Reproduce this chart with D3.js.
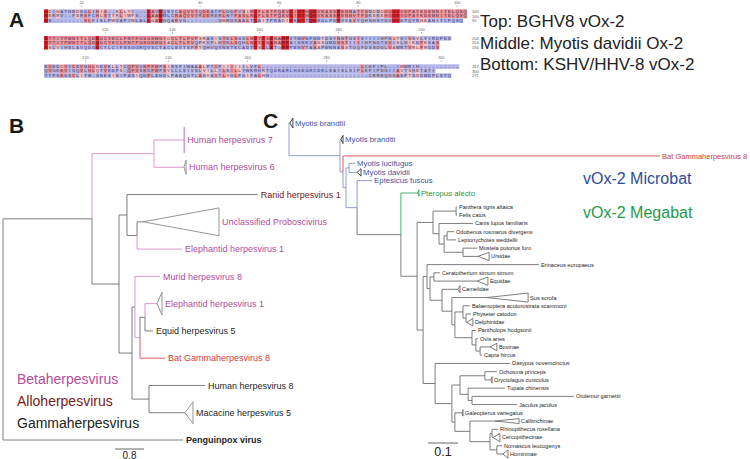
<!DOCTYPE html>
<html><head><meta charset="utf-8">
<script src="https://cdn.jsdelivr.net/npm/d3@7"></script>
<style>body{margin:0;background:#fff} svg{display:block;font-family:Arial,"Liberation Sans",Helvetica,sans-serif}</style>
</head><body><svg id="fig" width="750" height="459"></svg>
<script>
// ---------------- DATA ----------------
// Panel A: alignment blocks (top: BGHV8 vOx-2, middle: Myotis davidii Ox-2, bottom: KSHV vOx-2)
const alnBlock1 = [
  "MDIHATHNDSGLIHIS--KLLYI---LAVWQSYCAQVVTQDEATPLGDPVSIRCFLETPQEVVIVTHQKVKASSPENMATFSNDNDHGVVVDPAYKDEMNITELQSQ",
  "MERRV--FERSFCHLSTYRLIWFS--LAAWMLCRAQVVTRDERERLNTPASLRCFLETPQEVVIVTHQKVKASSPENMVTFSKEKEHGVVVDPAYKDEMNITELQSQ",
  "MS--------SLFISLPWVAFIWLALLGAWGQARVG--------GMRGSAALTCAITPRADIVSVTTQKRGLPGPVVAVYQHSHSYGVVVDTQYRHEANITCPQSQ"
];
const alnBlock2 = [
  "STTITPWNTTLQDGGCYKCLFNTFGSGKWGIGCLTLFVPSRASISYELSGSLNVTCSANARPVTMVNFNDTDSYNNTGSISIIIIHPNGTSIVSVLYIRDPKS",
  "STTITPWNTTLQDGGCYKCLFNTFGSGKWGIACLTLFVQPKVFLHYKLSQHLNVTCSANARPAISNKVAGSGMDNSTIIIIHPNGTSVISLHIKDPKSAS",
  "SSLVIHSLAVQDGGCYLCIFSSGGRQVSCTACLEVTSPPTQHVQVNSTECADTVSCLATGRPPENVTAAAPWNNASSTGQFDSSDGLVAWRTVRLPRGDS"
];
const alnBlock3 = [
  "KVEDDVYCEVNHLNKVELLTCQPVVKPFWPSIRSFIWAAALFTIFIIIIIILVFL-------------------------LCKFIPL--IMMRIH----------",
  "QVGKEVIGQVLHLQTVKDFS-QPVSKGFWFSVLLLSIVSLVILLILSILLYWKRHRTQDRARLHSEGRCDELEAISLSIPLKFIPDGIIAVTSHETATI",
  "TTPSEGSCLITW-GNESISIPASIQGPLAHDLPAAQGTLAGVAITLVGLFGIFALHH-------------------------CRRKQGGASPTSDDMDPLSTQ"
];
const alnEndNumbers = [[100, 100, 90], [204, 204, 194], [267, 300, 271]];
const alnRuler = [
  [[20, 10], [40, 40], [60, 60], [80, 80], [100, 105]],
  [[120, 16], [140, 33], [160, 55], [180, 75], [200, 96]],
  [[220, 11], [240, 32], [260, 52], [280, 72], [300, 101]]
];
const alnSimilarGroups = ["ILVM", "FYW", "KRH", "DE", "ST", "NQ", "AG"];
const alnLegend = ["Top: BGHV8 vOx-2", "Middle:  Myotis davidii Ox-2", "Bottom:  KSHV/HHV-8 vOx-2"];

// Panel B: herpesvirus tree  [id, parent, cumulative branch length]
const treeB = [
  ["rootB", "", 0],
  ["a", "rootB", 2.455],
  ["beta", "a", 4.166],
  ["Human herpesvirus 7", "beta", 4.993],
  ["Human herpesvirus 6", "beta", 4.993],
  ["b", "a", 3.2],
  ["c", "b", 3.42],
  ["Ranid herpesvirus 1", "c", 7.03],
  ["d", "c", 3.697],
  ["Unclassified Proboscivirus", "d", 3.862],
  ["Elephantid herpesvirus 1#1", "d", 4.938],
  ["p", "b", 3.559],
  ["m", "p", 3.641],
  ["Murid herpesvirus 8", "m", 4.331],
  ["m2", "m", 3.779],
  ["q", "m2", 3.917],
  ["Elephantid herpesvirus 1#2", "q", 4.248],
  ["Equid herpesvirus 5", "q", 4.138],
  ["Bat Gammaherpesvirus 8", "m2", 4.469],
  ["h", "p", 4.028],
  ["Human herpesvirus 8", "h", 5.572],
  ["Macacine herpesvirus 5", "h", 5.021],
  ["Penguinpox virus", "rootB", 4.966]
];
// collapsed clades: [leaf, end length, half height in rows]
const treeBCollapsed = [
  ["Human herpesvirus 7", 5.0, 0.48],
  ["Human herpesvirus 6", 5.05, 0.26],
  ["Unclassified Proboscivirus", 5.959, 0.51],
  ["Elephantid herpesvirus 1#2", 4.386, 0.42],
  ["Macacine herpesvirus 5", 5.241, 0.4]
];
const treeBPinkEdges = ["beta", "Human herpesvirus 7", "Human herpesvirus 6", "Elephantid herpesvirus 1#1",
  "Murid herpesvirus 8", "m2", "Elephantid herpesvirus 1#2"];
const treeBRedEdges = ["Bat Gammaherpesvirus 8"];
const treeBPinkLabels = ["Human herpesvirus 7", "Human herpesvirus 6", "Unclassified Proboscivirus",
  "Elephantid herpesvirus 1#1", "Murid herpesvirus 8", "Elephantid herpesvirus 1#2"];
const treeBLegend = ["Betaherpesvirus", "Alloherpesvirus", "Gammaherpesvirus"];
const treeBScale = 0.8;

// Panel C: Ox-2 tree
const treeC = [
  ["rootC", "", 0],
  ["Myotis brandtii#1", "rootC", 0.003],
  ["n1", "rootC", 0.170],
  ["Myotis brandtii#2", "n1", 0.173],
  ["n2", "n1", 0.180],
  ["Bat Gammaherpesvirus 8", "n2", 1.237],
  ["n3", "n2", 0.190],
  ["n4", "n3", 0.200],
  ["Myotis lucifugus", "n4", 0.220],
  ["Myotis davidii", "n4", 0.227],
  ["n5", "n3", 0.227],
  ["Eptesicus fuscus", "n5", 0.277],
  ["n6", "n5", 0.373],
  ["Pteropus alecto", "n6", 0.430],
  ["mammals", "n6", 0.427],
  ["carn", "mammals", 0.480],
  ["fel", "carn", 0.557],
  ["Panthera tigris altaica", "fel", 0.560],
  ["Felis catus", "fel", 0.560],
  ["can", "carn", 0.500],
  ["Canis lupus familiaris", "can", 0.613],
  ["arc", "can", 0.517],
  ["pinn", "arc", 0.527],
  ["Odobenus rosmarus divergens", "pinn", 0.550],
  ["Leptonychotes weddellii", "pinn", 0.557],
  ["mu", "arc", 0.580],
  ["Mustela putorius furo", "mu", 0.627],
  ["Ursidae", "mu", 0.630],
  ["lx", "mammals", 0.447],
  ["r1", "lx", 0.460],
  ["Erinaceus europaeus", "r1", 0.833],
  ["r2", "r1", 0.470],
  ["periss", "r2", 0.483],
  ["Ceratotherium simum simum", "periss", 0.503],
  ["Equidae", "periss", 0.627],
  ["cet", "r2", 0.510],
  ["Camelidae", "cet", 0.563],
  ["c2", "cet", 0.543],
  ["Sus scrofa", "c2", 0.660],
  ["c3", "c2", 0.553],
  ["whales", "c3", 0.580],
  ["Balaenoptera acutorostrata scammoni", "whales", 0.603],
  ["w2", "whales", 0.590],
  ["Physeter catodon", "w2", 0.607],
  ["Delphinidae", "w2", 0.593],
  ["bov", "c3", 0.610],
  ["Pantholops hodgsonii", "bov", 0.623],
  ["b2", "bov", 0.623],
  ["Ovis aries", "b2", 0.630],
  ["b3", "b2", 0.637],
  ["Bovinae", "b3", 0.670],
  ["Capra hircus", "b3", 0.643],
  ["eu0", "lx", 0.487],
  ["Dasypus novemcinctus", "eu0", 0.737],
  ["euarch", "eu0", 0.543],
  ["gl", "euarch", 0.570],
  ["lago", "gl", 0.653],
  ["Ochotona princeps", "lago", 0.693],
  ["Oryctolagus cuniculus", "lago", 0.673],
  ["toj", "gl", 0.597],
  ["Tupaia chinensis", "toj", 0.720],
  ["oj", "toj", 0.610],
  ["Otolemur garnettii", "oj", 0.950],
  ["Jaculus jaculus", "oj", 0.760],
  ["dp", "euarch", 0.553],
  ["Galeopterus variegatus", "dp", 0.577],
  ["prim", "dp", 0.603],
  ["Callitrichinae", "prim", 0.687],
  ["cat", "prim", 0.670],
  ["cerc", "cat", 0.677],
  ["Rhinopithecus roxellana", "cerc", 0.697],
  ["Cercopithecinae", "cerc", 0.680],
  ["ape", "cat", 0.693],
  ["Nomascus leucogenys", "ape", 0.710],
  ["Homininae", "ape", 0.713]
];
const treeCCollapsed = [
  ["Myotis brandtii#1", 0.013, 0.6],
  ["Myotis brandtii#2", 0.180, 0.5],
  ["Myotis davidii", 0.240, 0.45],
  ["Pteropus alecto", 0.433, 0.4],
  ["Ursidae", 0.667, 0.5],
  ["Equidae", 0.663, 0.5],
  ["Camelidae", 0.570, 0.45],
  ["Sus scrofa", 0.797, 0.55],
  ["Delphinidae", 0.613, 0.45],
  ["Bovinae", 0.693, 0.45],
  ["Oryctolagus cuniculus", 0.677, 0.4],
  ["Galeopterus variegatus", 0.580, 0.4],
  ["Callitrichinae", 0.767, 0.3],
  ["Cercopithecinae", 0.703, 0.5],
  ["Homininae", 0.730, 0.5]
];
// extra row spacing before a leaf (default 1 row)
const treeCRowGap = [
  ["Myotis brandtii#2", 2], ["Bat Gammaherpesvirus 8", 2], ["Myotis lucifugus", 0.9],
  ["Myotis davidii", 1.1], ["Eptesicus fuscus", 1], ["Pteropus alecto", 1.5], ["Panthera tigris altaica", 1.7]
];
const treeCBlueEdges = ["Myotis brandtii#1", "n1", "Myotis brandtii#2", "n2", "n3", "n4",
  "Myotis lucifugus", "Myotis davidii", "n5", "Eptesicus fuscus"];
const treeCBlueLabels = ["Myotis brandtii#1", "Myotis brandtii#2", "Myotis lucifugus", "Myotis davidii", "Eptesicus fuscus"];
const treeCLegend = ["vOx-2 Microbat", "vOx-2 Megabat"];
const treeCScale = 0.1;

// ---------------- DRAWING ----------------
const svg = d3.select("#fig");
const COL = {gray: "#6e6e6e", pink: "#d88cc6", pinkText: "#b44c9e", red: "#e04848", redText: "#d23a3a",
  darkRed: "#7a1818", blue: "#8592c8", blueText: "#3b54a4", green: "#2fae60", greenText: "#1f9a4a", text: "#1e1e1e"};

// panel letters
[["A", 9, 27], ["B", 9, 133], ["C", 263, 128]].forEach(([t, x, y]) =>
  svg.append("text").attr("x", x).attr("y", y).attr("font-size", 21).attr("font-weight", "bold")
    .attr("fill", "#1a1a1a").text(t));

// ---- Panel A ----
const alnBlocks = [alnBlock1, alnBlock2, alnBlock3];
const nCols = d3.max(alnBlocks.flat(), s => s.length);
const colX = d3.scaleLinear().domain([0, nCols]).range([44, 467]);
const blockTop = [9.3, 36, 64.3], rowH = 4.5;
const cellFill = {3: "#d2222a", 2: "#ec8e94", 1: "#f6c2c6", 0: "#b2b4e6"};
const cw = colX(1) - colX(0);
const simGroup = ch => alnSimilarGroups.findIndex(g => g.includes(ch));
alnBlocks.forEach((blk, bi) => {
  const g = svg.append("g");
  const cells = [];
  blk.forEach((s, ri) => {
    for (let i = 0; i < s.length; i++) {
      const ch = s[i];
      const others = blk.filter((t, k) => k !== ri).map(t => t[i] || "-");
      let lvl = 0;
      if (ch !== "-") {
        const same = others.filter(c => c === ch).length;
        const sg = simGroup(ch);
        const sim = others.filter(c => c !== "-" && sg >= 0 && simGroup(c) === sg).length;
        if (same === 2) lvl = 3;
        else if (same === 1) lvl = 2;
        else if (sim >= 1) lvl = 1;
      }
      cells.push({ri, i, ch, lvl});
    }
  });
  g.selectAll("rect").data(cells).join("rect")
    .attr("x", d => colX(d.i)).attr("y", d => blockTop[bi] + d.ri * rowH)
    .attr("width", cw + 0.15).attr("height", rowH + 0.1)
    .attr("fill", d => cellFill[d.lvl]);
  g.selectAll("text.aa").data(cells).join("text").attr("class", "aa")
    .attr("x", d => colX(d.i + 0.5)).attr("y", d => blockTop[bi] + d.ri * rowH + rowH * 0.82)
    .attr("text-anchor", "middle").attr("font-size", 4.4).attr("font-weight", "bold")
    .attr("fill", d => d.lvl === 3 ? "#5a0a0a" : "#40304a").attr("fill-opacity", 0.7)
    .text(d => d.ch);
  g.selectAll("text.num").data(alnEndNumbers[bi]).join("text").attr("class", "num")
    .attr("x", colX(nCols) + 5).attr("y", (d, ri) => blockTop[bi] + ri * rowH + rowH * 0.85)
    .attr("font-size", 4).attr("fill", "#555").text(d => d);
  const r = g.selectAll("g.rul").data(alnRuler[bi]).join("g").attr("class", "rul");
  r.append("line").attr("x1", d => colX(d[1] - 0.5)).attr("x2", d => colX(d[1] - 0.5))
    .attr("y1", blockTop[bi] - 4.2).attr("y2", blockTop[bi] - 2.2).attr("stroke", "#888").attr("stroke-width", 0.5);
  r.append("text").attr("x", d => colX(d[1] - 0.5)).attr("y", blockTop[bi] - 5.3)
    .attr("text-anchor", "middle").attr("font-size", 3.8).attr("fill", "#666").text(d => d[0]);
});
svg.selectAll("text.alnleg").data(alnLegend).join("text").attr("class", "alnleg")
  .attr("x", 480).attr("y", (d, i) => 27 + i * 21.7).attr("font-size", 17).attr("fill", "#222").text(d => d);

// ---- generic tree ----
function buildTree(rows, gaps) {
  const root = d3.stratify().id(d => d[0]).parentId(d => d[1])(rows);
  const gapMap = new Map(gaps || []);
  let slot = 0;
  root.leaves().forEach((l, i) => {
    if (i > 0) slot += gapMap.has(l.id) ? gapMap.get(l.id) : 1;
    l.slot = slot;
  });
  root.eachAfter(n => { if (n.children) n.slot = (n.children[0].slot + n.children[n.children.length - 1].slot) / 2; });
  root.totalSlots = slot;
  return root;
}
function drawTree(g, root, x, y, opt) {
  const coll = new Map(opt.collapsed.map(c => [c[0], c]));
  const nodes = root.descendants().filter(n => n.parent);
  g.selectAll("path.edge").data(nodes).join("path").attr("class", "edge")
    .attr("d", n => `M${x(n.parent.data[2])},${y(n.parent.slot)}V${y(n.slot)}H${x(n.data[2])}`)
    .attr("fill", "none").attr("stroke", n => opt.edgeColor(n)).attr("stroke-width", 0.9);
  const tri = nodes.filter(n => coll.has(n.id));
  g.selectAll("path.tri").data(tri).join("path").attr("class", "tri")
    .attr("d", n => {
      const c = coll.get(n.id), x0 = x(n.data[2]), x1 = x(c[1]), yc = y(n.slot), h = y(c[2]) - y(0);
      return `M${x0},${yc}L${x1},${yc - h}L${x1},${yc + h}Z`;
    })
    .attr("fill", "#fff").attr("stroke", n => opt.triColor(n)).attr("stroke-width", 0.9);
  const leaves = root.leaves();
  g.selectAll("text.lab").data(leaves).join("text").attr("class", "lab")
    .attr("x", n => (coll.has(n.id) ? x(coll.get(n.id)[1]) : x(n.data[2])) + opt.pad)
    .attr("y", n => y(n.slot)).attr("dy", "0.35em")
    .attr("font-size", n => opt.fontSize(n)).attr("font-weight", n => opt.weight(n))
    .attr("fill", n => opt.labelColor(n)).text(n => n.id.replace(/#\d+$/, ""));
}

// ---- Panel B ----
const rootB = buildTree(treeB);
const xB = d3.scaleLinear().domain([0, 1]).range([3, 39.25]);
const yB = d3.scaleLinear().domain([0, rootB.totalSlots]).range([140, 440]);
const gB = svg.append("g");
drawTree(gB, rootB, xB, yB, {
  collapsed: treeBCollapsed, pad: 3,
  edgeColor: n => treeBRedEdges.includes(n.id) ? COL.red : treeBPinkEdges.includes(n.id) ? COL.pink : COL.gray,
  triColor: n => n.id === "Human herpesvirus 7" ? COL.pink : "#8a8a8a",
  labelColor: n => n.id === "Bat Gammaherpesvirus 8" ? COL.redText : n.id === "Ranid herpesvirus 1" ? COL.darkRed :
    treeBPinkLabels.includes(n.id) ? COL.pinkText : COL.text,
  fontSize: () => 9, weight: n => n.id === "Penguinpox virus" ? "bold" : "normal"
});
const bLegColors = [COL.pinkText, COL.darkRed, "#222"];
svg.selectAll("text.bleg").data(treeBLegend).join("text").attr("class", "bleg")
  .attr("x", 17).attr("y", (d, i) => 384 + i * 22).attr("font-size", 14)
  .attr("fill", (d, i) => bLegColors[i]).text(d => d);
const bBarX = 115;
svg.append("line").attr("x1", bBarX).attr("x2", bBarX + xB(treeBScale) - xB(0)).attr("y1", 449).attr("y2", 449)
  .attr("stroke", "#555").attr("stroke-width", 0.9);
svg.append("text").attr("x", bBarX + (xB(treeBScale) - xB(0)) / 2).attr("y", 459).attr("text-anchor", "middle")
  .attr("font-size", 10).attr("fill", "#222").text(treeBScale);

// ---- Panel C ----
const rootC = buildTree(treeC, treeCRowGap);
const xC = d3.scaleLinear().domain([0, 1]).range([289, 589]);
const yC = d3.scaleLinear().domain([0, rootC.totalSlots]).range([123, 454]);
const gC = svg.append("g");
const bigC = new Set([...treeCBlueLabels, "Pteropus alecto"]);
drawTree(gC, rootC, xC, yC, {
  collapsed: treeCCollapsed, pad: 2,
  edgeColor: n => n.id === "Bat Gammaherpesvirus 8" ? COL.red : n.id === "Pteropus alecto" ? COL.green :
    treeCBlueEdges.includes(n.id) ? COL.blue : COL.gray,
  triColor: n => n.id === "Pteropus alecto" ? COL.green : treeCBlueEdges.includes(n.id) ? "#333" : COL.gray,
  labelColor: n => n.id === "Bat Gammaherpesvirus 8" ? COL.redText : n.id === "Pteropus alecto" ? COL.greenText :
    treeCBlueLabels.includes(n.id) ? COL.blueText : COL.text,
  fontSize: n => bigC.has(n.id) ? 7.8 : n.id === "Bat Gammaherpesvirus 8" ? 7.5 : 5.6,
  weight: () => "normal"
});
const cLegColors = ["#2f4c9c", "#1f9a4a"];
svg.selectAll("text.cleg").data(treeCLegend).join("text").attr("class", "cleg")
  .attr("x", 583).attr("y", (d, i) => 184 + i * 34).attr("font-size", 16)
  .attr("fill", (d, i) => cLegColors[i]).text(d => d);
const cBarX = 428;
svg.append("line").attr("x1", cBarX).attr("x2", cBarX + xC(treeCScale) - xC(0)).attr("y1", 443).attr("y2", 443)
  .attr("stroke", "#555").attr("stroke-width", 0.9);
svg.append("text").attr("x", cBarX + (xC(treeCScale) - xC(0)) / 2).attr("y", 456).attr("text-anchor", "middle")
  .attr("font-size", 12.5).attr("fill", "#222").text(treeCScale);
</script></body></html>
